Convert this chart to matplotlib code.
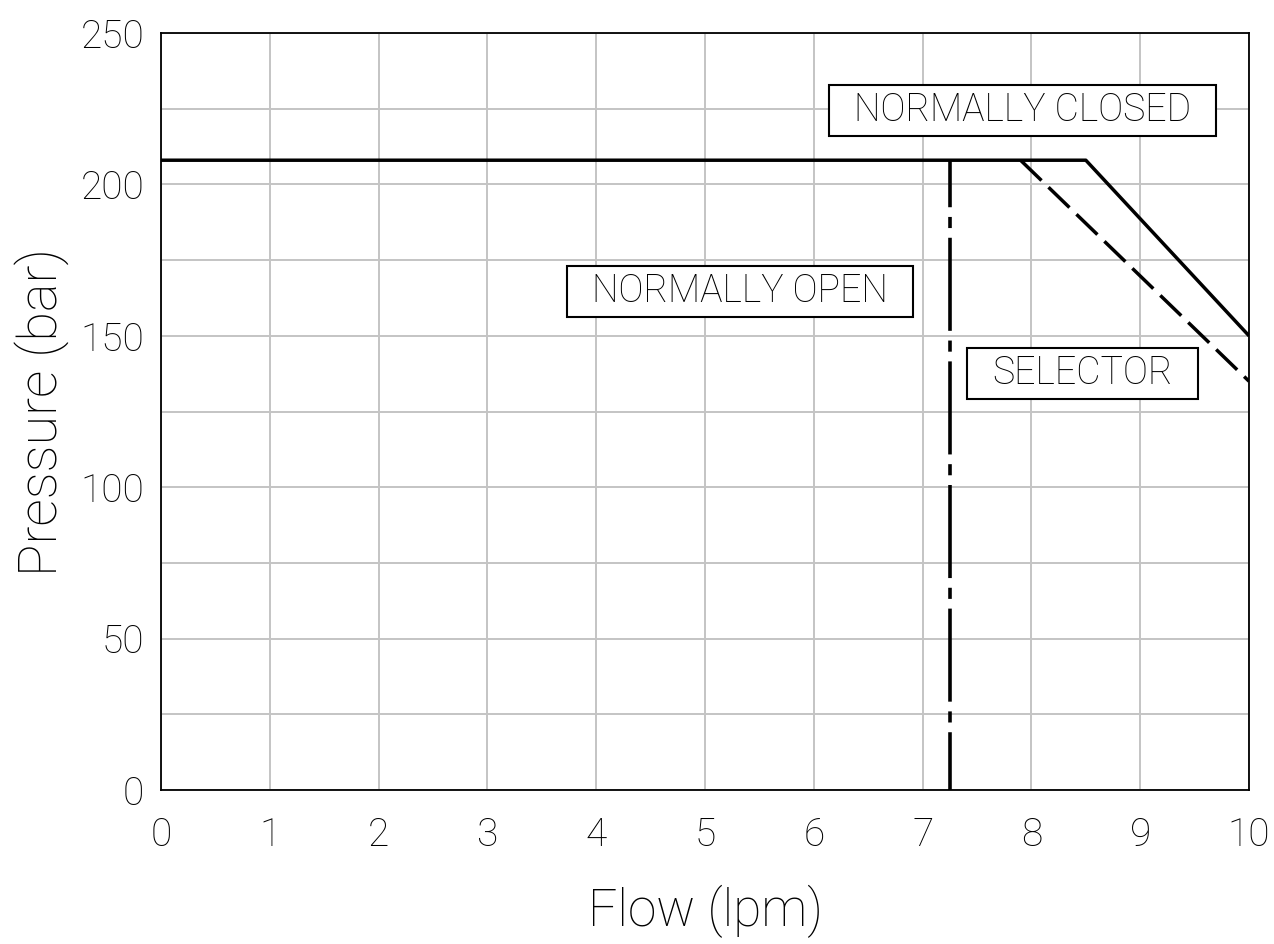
import matplotlib
matplotlib.use("Agg")
import matplotlib.pyplot as plt
from matplotlib.patches import Rectangle
from matplotlib.transforms import IdentityTransform

plt.rcParams['lines.scale_dashes'] = False

# curves (flow in lpm, pressure in bar)
closed_flow = [0, 8.5, 10]
closed_pres = [208, 208, 150]

selector_flow = [7.9, 10]
selector_pres = [208, 135]

open_flow = [7.25, 7.25]
open_pres = [208, 0]

labels = ["NORMALLY CLOSED", "NORMALLY OPEN", "SELECTOR"]
label_x = [7.92, 5.32, 8.47]
label_y = [224.4, 164.7, 137.7]

xticks = list(range(0, 11))
yticks = [0, 50, 100, 150, 200, 250]

label_font = ['Roboto', 'DejaVu Sans']

fig = plt.figure(figsize=(12.74, 9.44), dpi=100)
ax = fig.add_axes([0.1264, 0.1631, 0.854, 0.8019])

ax.plot(closed_flow, closed_pres, color='black', lw=2.5, solid_capstyle='butt', zorder=3)
ax.plot(selector_flow, selector_pres, color='black', lw=2.5, dashes=(21, 7), zorder=3)
ax.plot(open_flow, open_pres, color='black', lw=2.6, linestyle=(33, (67, 7, 8, 7)), zorder=3)

texts = []
for t, x, y in zip(labels, label_x, label_y):
    texts.append(ax.text(x, y, t, ha='center', va='center', fontsize=27,
                         family=label_font, fontweight='light', zorder=5))

ax.set_xlim(0, 10)
ax.set_ylim(0, 250)
ax.set_xticks(xticks)
ax.set_yticks(yticks)
ax.set_yticks(range(25, 250, 50), minor=True)
ax.grid(True, which='both', color='#c4c4c4', lw=1.4)
ax.set_axisbelow(True)
ax.tick_params(which='both', length=0, labelsize=28)
ax.tick_params(axis='x', pad=19)
ax.tick_params(axis='y', pad=12)
for lab in ax.get_xticklabels() + ax.get_yticklabels():
    lab.set_family(label_font)
    lab.set_fontweight('light')
for s in ax.spines.values():
    s.set_linewidth(1.3)

ax.set_xlabel("Flow (lpm)", fontsize=37, family=label_font, fontweight='light', labelpad=22)
ax.set_ylabel("Pressure (bar)", fontsize=39, family=label_font, fontweight='light', labelpad=8)

# boxes round the curve labels
fig.canvas.draw()
r = fig.canvas.get_renderer()
for t in texts:
    bb = t.get_window_extent(r)
    cx = (bb.x0 + bb.x1) / 2
    cy = (bb.y0 + bb.y1) / 2
    w = bb.width + 50
    h = 51
    box = Rectangle((cx - w / 2, cy - h / 2), w, h, transform=IdentityTransform(),
                    fc='white', ec='black', lw=1.5, zorder=4)
    fig.add_artist(box)
    t.set_zorder(6)
    t.remove()
    fig.add_artist(t)

fig.savefig("out.png", dpi=100)
